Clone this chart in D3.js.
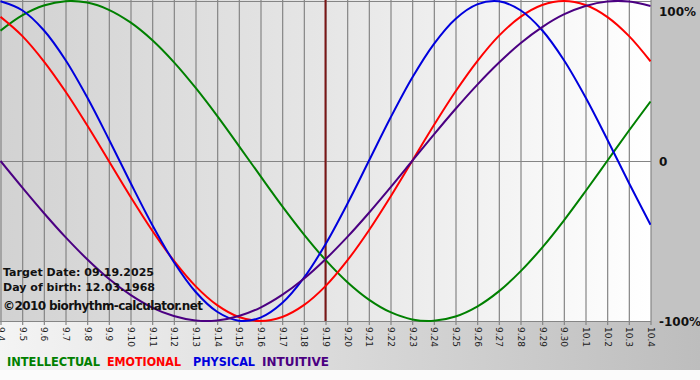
<!DOCTYPE html>
<html><head><meta charset="utf-8">
<script src="https://cdn.jsdelivr.net/npm/d3@7/dist/d3.min.js"></script>
<style>html,body{margin:0;padding:0;background:#fff;overflow:hidden}svg{display:block}</style>
</head><body>
<svg id="chart" width="700" height="380"></svg>
<script>
const dates = ["9.4","9.5","9.6","9.7","9.8","9.9","9.10","9.11","9.12","9.13","9.14","9.15","9.16","9.17","9.18","9.19","9.20","9.21","9.22","9.23","9.24","9.25","9.26","9.27","9.28","9.29","9.30","10.1","10.2","10.3","10.4"];
const intellectual = [0.815,0.910,0.972,0.999,0.990,0.945,0.866,0.756,0.618,0.458,0.282,0.095,-0.095,-0.282,-0.458,-0.618,-0.756,-0.866,-0.945,-0.990,-0.999,-0.972,-0.910,-0.815,-0.690,-0.541,-0.372,-0.189,0.000,0.189,0.372];
const emotional = [0.901,0.782,0.623,0.434,0.223,0.000,-0.223,-0.434,-0.623,-0.782,-0.901,-0.975,-1.000,-0.975,-0.901,-0.782,-0.623,-0.434,-0.223,0.000,0.223,0.434,0.623,0.782,0.901,0.975,1.000,0.975,0.901,0.782,0.623];
const physical = [0.998,0.942,0.817,0.631,0.398,0.136,-0.136,-0.398,-0.631,-0.817,-0.942,-0.998,-0.979,-0.888,-0.731,-0.520,-0.270,0.000,0.270,0.520,0.731,0.888,0.979,0.998,0.942,0.817,0.631,0.398,0.136,-0.136,-0.398];
const intuitive = [0.000,-0.165,-0.325,-0.476,-0.614,-0.736,-0.837,-0.916,-0.969,-0.997,-0.997,-0.969,-0.916,-0.837,-0.736,-0.614,-0.476,-0.325,-0.165,0.000,0.165,0.325,0.476,0.614,0.736,0.837,0.916,0.969,0.997,0.997,0.969];
const yTicks = [1, 0, -1];
const yTickLabels = ["100%", "0", "-100%"];
const targetDate = "9.19";
const infoLines = ["Target Date: 09.19.2025", "Day of birth: 12.03.1968"];
const copyright = "©2010 biorhythm-calculator.net";
const legendNames = ["INTELLECTUAL", "EMOTIONAL", "PHYSICAL", "INTUITIVE"];

const series = [
  {name:"INTELLECTUAL", values:intellectual, color:"#008000"},
  {name:"EMOTIONAL", values:emotional, color:"#ff0000"},
  {name:"PHYSICAL", values:physical, color:"#0000dd"},
  {name:"INTUITIVE", values:intuitive, color:"#4b0082"}
];

const svg = d3.select("#chart");
const W = 700, H = 380;
const plot = {left:0.5, right:650.5, top:1, bottom:321};

const defs = svg.append("defs");
const g1 = defs.append("linearGradient").attr("id","plotbg").attr("x1","0").attr("x2","1").attr("y1","0").attr("y2","0");
g1.append("stop").attr("offset","0").attr("stop-color","#d2d2d2");
g1.append("stop").attr("offset","0.5").attr("stop-color","#e6e6e6");
g1.append("stop").attr("offset","1").attr("stop-color","#ffffff");
const g2 = defs.append("linearGradient").attr("id","botbg").attr("x1","0").attr("x2","1").attr("y1","0").attr("y2","0");
g2.append("stop").attr("offset","0").attr("stop-color","#f4f4f4");
g2.append("stop").attr("offset","1").attr("stop-color","#bdbdbd");

// backgrounds
svg.append("rect").attr("x",0).attr("y",0).attr("width",W).attr("height",H).attr("fill","#fbfbfb");
svg.append("rect").attr("x",0).attr("y",plot.bottom).attr("width",W).attr("height",370-plot.bottom).attr("fill","url(#botbg)");
svg.append("rect").attr("x",651).attr("y",0).attr("width",W-651).attr("height",plot.bottom).attr("fill","#c3c3c3");
svg.append("rect").attr("x",0).attr("y",0).attr("width",651).attr("height",plot.bottom).attr("fill","url(#plotbg)");

const x = d3.scalePoint().domain(dates).range([plot.left, plot.right]);
const y = d3.scaleLinear().domain([-1, 1]).range([plot.bottom, plot.top]);

// vertical grid lines + ticks
const xAxis = d3.axisBottom(x).tickSize(plot.bottom + 4).tickSizeOuter(0);
const ax = svg.append("g").attr("transform","translate(0,0)").call(xAxis);
ax.select(".domain").remove();
ax.selectAll(".tick line").attr("stroke","#858585").attr("stroke-width",1.2);
ax.selectAll(".tick text")
  .attr("font-family","'DejaVu Sans', Verdana, sans-serif")
  .attr("font-size","9px").attr("fill","#1a1a1a")
  .attr("text-anchor","start")
  .attr("transform","rotate(90)")
  .attr("x", plot.bottom + 6).attr("y", 0).attr("dy","0.35em");

// horizontal lines
const yAxis = d3.axisRight(y).tickValues(yTicks).tickSize(0).tickFormat((d,i)=>yTickLabels[i]);
const yl = svg.append("g").attr("transform","translate(0,0)");
yl.selectAll("line").data(yTicks).join("line")
  .attr("x1",0).attr("x2",651)
  .attr("y1",d=>Math.round(y(d))+0.5).attr("y2",d=>Math.round(y(d))+0.5)
  .attr("stroke","#858585").attr("stroke-width",1.2);
const ya = svg.append("g").attr("transform","translate(659,0)").call(yAxis);
ya.select(".domain").remove();
ya.selectAll(".tick text")
  .attr("x",0).attr("dy",null)
  .attr("y",d=>Math.max(0, 11 - (y(d))) + 4.5)
  .attr("font-family","'DejaVu Sans', Verdana, sans-serif")
  .attr("font-weight","bold").attr("font-size","12px").attr("fill","#111")
  .attr("text-anchor","start");

// target line
svg.append("line").attr("x1",x(targetDate)).attr("x2",x(targetDate))
  .attr("y1",0).attr("y2",plot.bottom).attr("stroke","#7a1616").attr("stroke-width",2);

// curves
const line = d3.line().x((d,i)=>x(dates[i])).y(d=>y(d)).curve(d3.curveCatmullRom.alpha(0.5));
const clip = defs.append("clipPath").attr("id","clip");
clip.append("rect").attr("x",0).attr("y",0).attr("width",651).attr("height",plot.bottom+1);
svg.append("g").attr("clip-path","url(#clip)")
  .selectAll("path").data(series).join("path")
  .attr("d",d=>line(d.values)).attr("fill","none")
  .attr("stroke",d=>d.color).attr("stroke-width",2);

// info text
const info = svg.append("g").attr("font-family","'DejaVu Sans', Verdana, sans-serif").attr("font-weight","bold").attr("fill","#111");
info.selectAll("text.info").data(infoLines).join("text").attr("class","info")
  .attr("x",3).attr("y",(d,i)=>276+i*15).attr("font-size","11px")
  .attr("textLength",(d,i)=>i===0?151:152).text(d=>d);
info.append("text").attr("x",3).attr("y",310).attr("font-size","12px").attr("textLength",200).text(copyright);

// legend
const legX = [7,107,193,262], legW = [93,74,62,67];
svg.append("g").selectAll("text").data(legendNames).join("text")
  .attr("x",(d,i)=>legX[i]).attr("y",366)
  .attr("font-family","'DejaVu Sans Condensed', 'DejaVu Sans', sans-serif")
  .attr("font-weight","bold").attr("font-size","12px")
  .attr("textLength",(d,i)=>legW[i]).attr("lengthAdjust","spacingAndGlyphs")
  .attr("fill",(d,i)=>series[i].color).text(d=>d);
</script>
</body></html>
